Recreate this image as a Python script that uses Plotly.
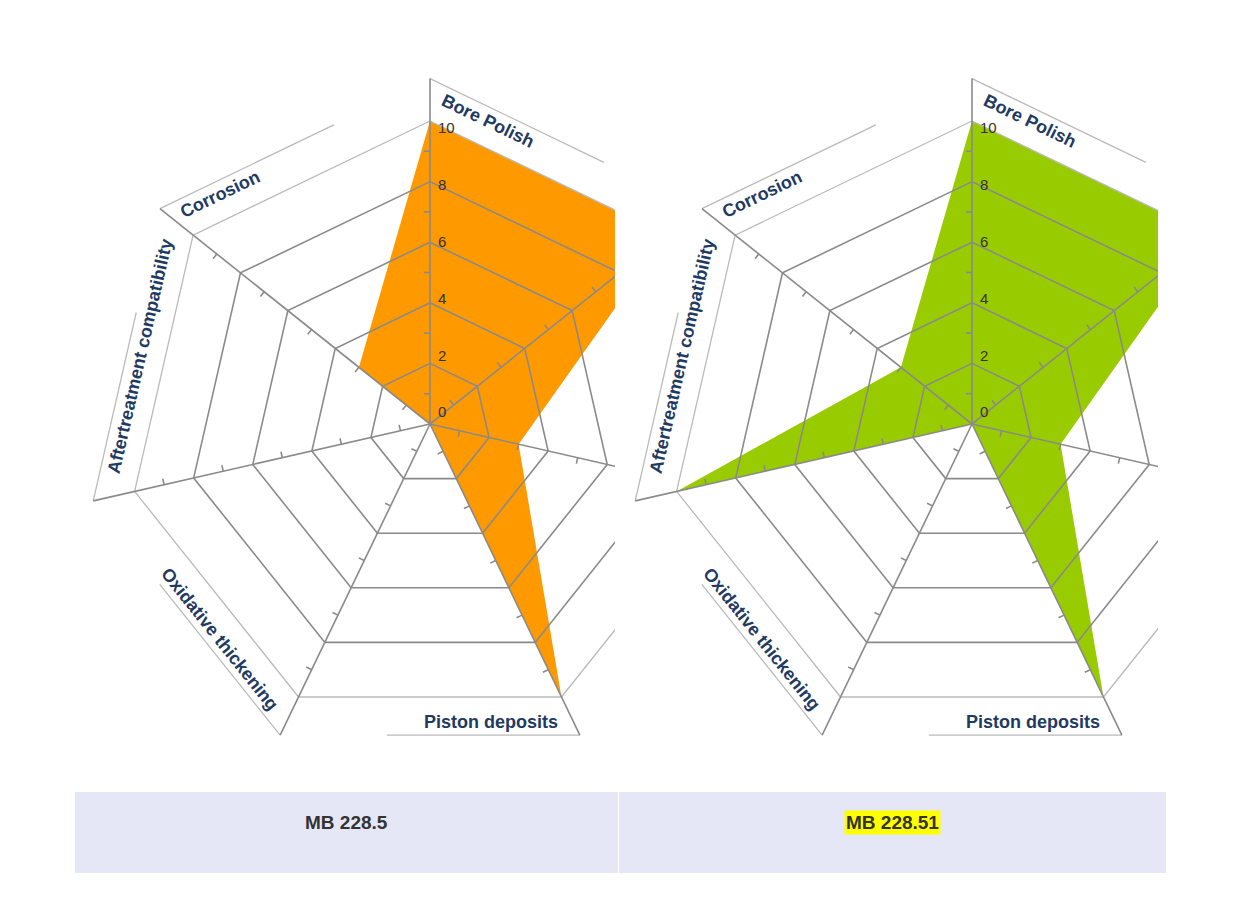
import numpy as np
import plotly.graph_objects as go

# radar scores (0-10), clockwise from the top spoke; the 2nd and 3rd spokes are cropped off
categories = ["Bore Polish", "Wear", "Sludge", "Piston deposits",
              "Oxidative thickening", "Aftertreatment compatibility", "Corrosion"]
oils = ["MB 228.5", "MB 228.51"]
scores_2285 = [10, 10, 3, 10, 0, 0, 3]
scores_22851 = [10, 10, 3, 10, 0, 10, 3]
grid_rings = [2, 4, 6, 8]
outer_ring = 10
scale_labels = [0, 2, 4, 6, 8, 10]
minor_ticks = [1, 3, 5, 7, 9]

PAGE = 8            # the browser's body margin
W, H = 1240 - PAGE, 920 - PAGE
PX = 30.3           # pixels per score point
FRAME_R = 11.4      # spokes run a bit past 10, up to the label frames
FRAME_LEN = 6.37    # length of each label frame line
DARK = "#8a8a8a"
LIGHT = "#bababa"
NAVY = "#1f3b63"
FONT = "Arial, Liberation Sans, sans-serif"
TOP, BOTTOM = 60, 760

charts = [
    dict(scores=scores_2285, color="#FF9900", cx=430, cy=424, x0=75, x1=615),
    dict(scores=scores_22851, color="#99CC00", cx=972, cy=424, x0=617, x1=1158),
]

n = len(categories)
ang = np.pi / 2 - 2 * np.pi * np.arange(n) / n
dirs = np.column_stack([np.cos(ang), np.sin(ang)])


def px_x(p):
    return (p - PAGE) / W


def px_y(p):
    return 1 - (p - PAGE) / H


def unit(v):
    return v / np.hypot(*v)


def polyline(segments):
    xs, ys = [], []
    for seg in segments:
        xs += [p[0] for p in seg] + [None]
        ys += [p[1] for p in seg] + [None]
    return xs, ys


def line_trace(segments, color, width, xa, ya):
    xs, ys = polyline(segments)
    return go.Scatter(x=xs, y=ys, mode="lines", xaxis=xa, yaxis=ya,
                      line=dict(color=color, width=width), hoverinfo="skip",
                      showlegend=False)


fig = go.Figure()
annotations = []

for i, ch in enumerate(charts):
    xa, ya = ("x", "y") if i == 0 else ("x2", "y2")
    s = np.array(ch["scores"], dtype=float)
    px = list(s * dirs[:, 0]) + [s[0] * dirs[0, 0]]
    py = list(s * dirs[:, 1]) + [s[0] * dirs[0, 1]]
    fig.add_trace(go.Scatter(x=px, y=py, mode="lines", fill="toself",
                             fillcolor=ch["color"], line=dict(width=0),
                             xaxis=xa, yaxis=ya, name=oils[i], showlegend=False))

    rings = [[r * dirs[k % n] for k in range(n + 1)] for r in grid_rings]
    outer = [[outer_ring * dirs[k % n] for k in range(n + 1)]]
    spokes = [[np.zeros(2), FRAME_R * dirs[k]] for k in range(n)]
    frames = []
    for k in range(n):
        e = FRAME_R * dirs[k]
        u = unit(dirs[(k + 1) % n] - dirs[k])
        frames.append([e, e + FRAME_LEN * u])
    ticks = []
    for k in range(n):
        perp = np.array([-dirs[k, 1], dirs[k, 0]])
        if perp[0] > 1e-9:
            perp = -perp
        for t in minor_ticks:
            p = t * dirs[k]
            ticks.append([p, p + 0.2 * perp])

    fig.add_trace(line_trace(outer + frames, LIGHT, 1.3, xa, ya))
    fig.add_trace(line_trace(rings + spokes + ticks, DARK, 1.6, xa, ya))

    xmax = (ch["x1"] - ch["cx"]) / PX
    for k, name in enumerate(categories):
        e = FRAME_R * dirs[k]
        u = unit(dirs[(k + 1) % n] - dirs[k])
        nrm = np.array([-u[1], u[0]])
        if np.dot(nrm, -e) < 0:
            nrm = -nrm
        along = (18 + 9.5 * len(name) / 2) / PX
        c = e + along * u + (13 / PX) * nrm
        if c[0] > xmax - 1:
            continue
        deg = np.degrees(np.arctan2(-u[1], u[0]))
        if u[0] < -0.01:
            deg += 180
        annotations.append(dict(x=c[0], y=c[1], xref=xa, yref=ya, text=f"<b>{name}</b>",
                                showarrow=False, textangle=deg, xanchor="center",
                                yanchor="middle", font=dict(family=FONT, size=18, color=NAVY)))

    for v in scale_labels:
        annotations.append(dict(x=0.2, y=v, xref=xa, yref=ya, text=str(v), showarrow=False,
                                xanchor="left", yanchor="middle", yshift=12 - 1.9 * v,
                                font=dict(family=FONT, size=15, color="#3a3028")))

    ax = dict(visible=False, fixedrange=True,
              domain=[px_x(ch["x0"]), px_x(ch["x1"])],
              range=[(ch["x0"] - ch["cx"]) / PX, (ch["x1"] - ch["cx"]) / PX])
    ay = dict(visible=False, fixedrange=True,
              domain=[px_y(BOTTOM), px_y(TOP)],
              range=[(ch["cy"] - BOTTOM) / PX, (ch["cy"] - TOP) / PX])
    if i == 0:
        fig.update_layout(xaxis=ax, yaxis=ay)
    else:
        fig.update_layout(xaxis2=dict(ax, anchor="y2"), yaxis2=dict(ay, anchor="x2"))

# the table row under the pictures
cells = [(75, 618), (619, 1166)]
row_top, row_bottom = 792, 873
shapes = []
for (c0, c1), name in zip(cells, oils):
    shapes.append(dict(type="rect", xref="paper", yref="paper",
                       x0=px_x(c0), x1=px_x(c1), y0=px_y(row_bottom), y1=px_y(row_top),
                       fillcolor="#E5E7F7", line=dict(width=0), layer="below"))
    hl = name == "MB 228.51"
    annotations.append(dict(x=px_x((c0 + c1) / 2), y=px_y(822), xref="paper", yref="paper",
                            text=f"<b>{name}</b>", showarrow=False,
                            xanchor="center", yanchor="middle",
                            bgcolor="#FFFF00" if hl else None, borderpad=1,
                            font=dict(family=FONT, size=19, color="#333333")))

fig.update_layout(width=W, height=H, margin=dict(l=0, r=0, t=0, b=0),
                  paper_bgcolor="white", plot_bgcolor="rgba(0,0,0,0)",
                  showlegend=False, shapes=shapes, annotations=annotations)

fig.write_html("out.html")
